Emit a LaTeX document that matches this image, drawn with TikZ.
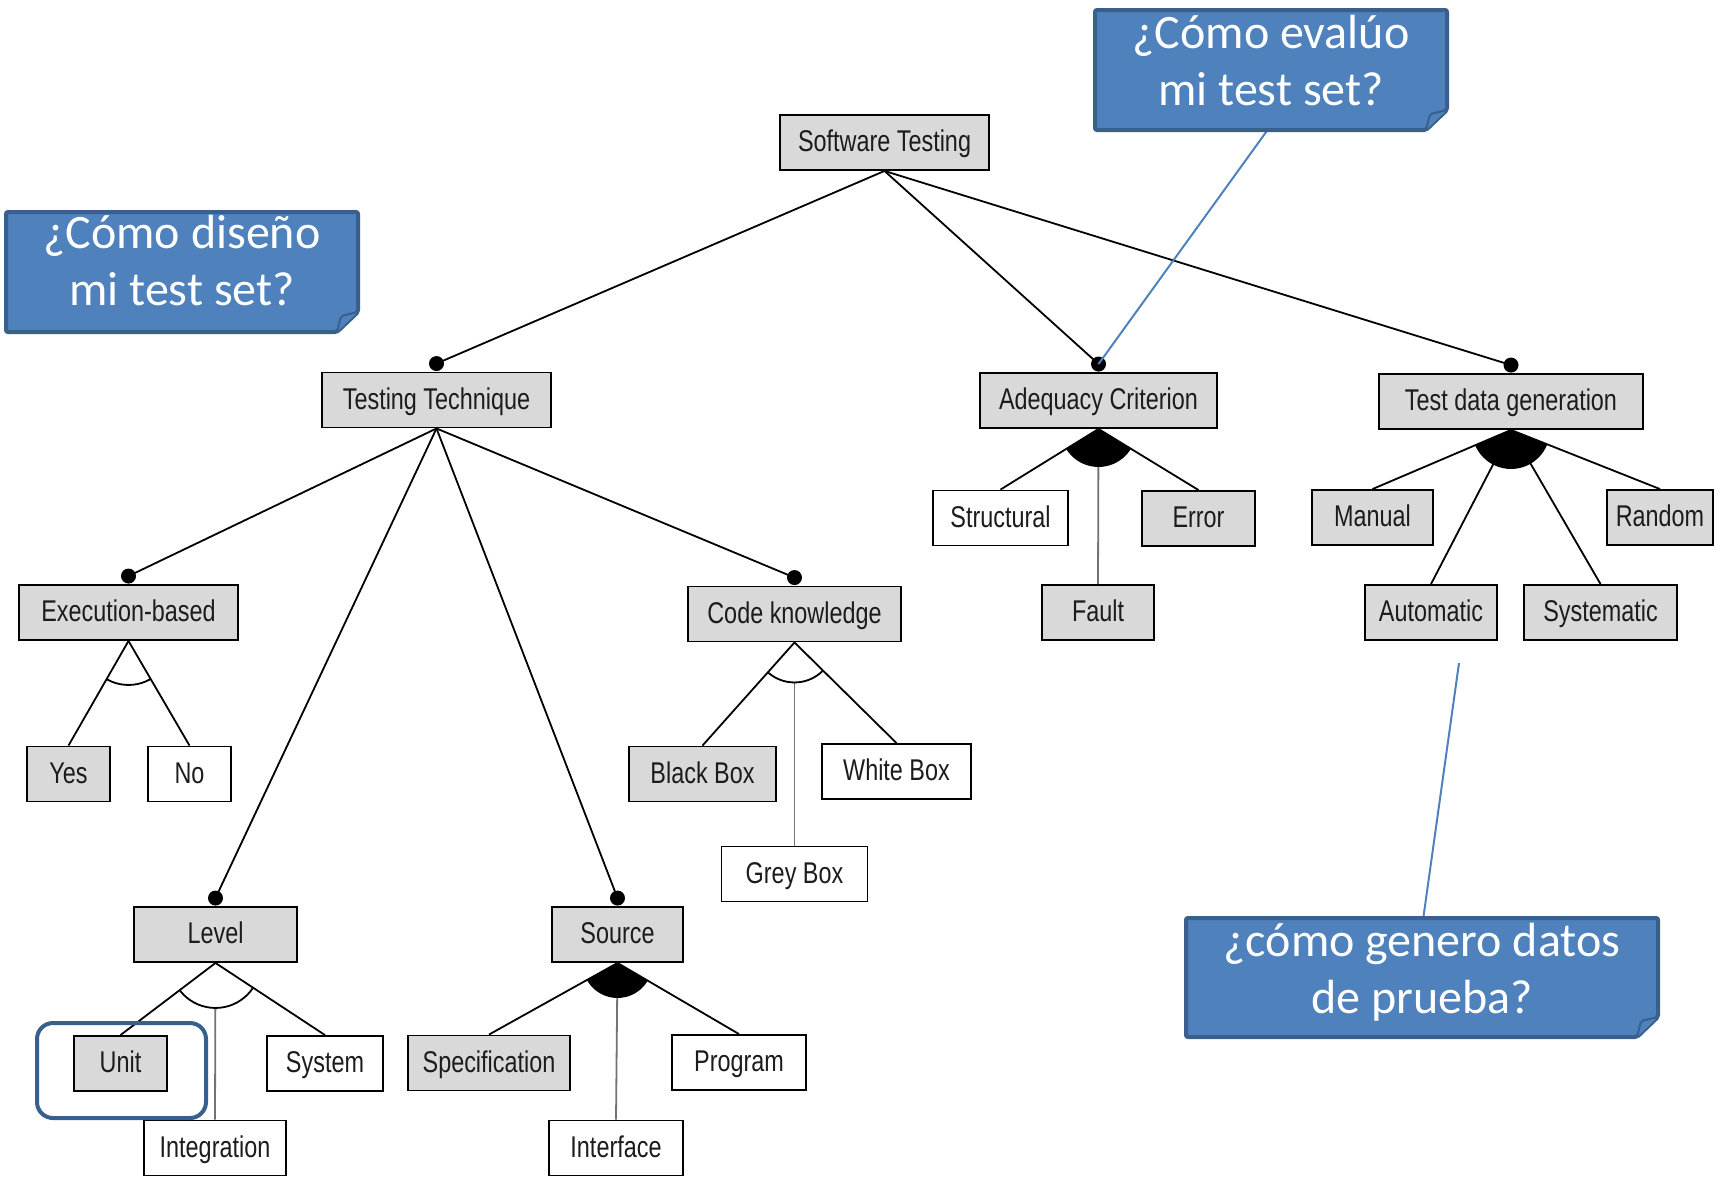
\documentclass[tikz,border=0pt]{standalone}
\usepackage{fontspec}
\newfontfamily\boxfont[FakeStretch=0.78]{Liberation Sans}
\newfontfamily\callfont{Carlito}
\definecolor{boxgrey}{HTML}{D9D9D9}
\definecolor{callfill}{HTML}{4F81BD}
\definecolor{callline}{HTML}{3A5F8D}
\definecolor{textdark}{HTML}{1C1C1C}

\begin{document}
\begin{tikzpicture}[
        x=1pt,y=-1pt,
        nsty/.style={
            draw,line width=1.9pt,
            minimum height=55pt,inner sep=0pt,
            text height=21pt,text depth=3pt,text=textdark,
            font=\boxfont\fontsize{30}{30}\selectfont,
        },
        csty0/.style={fill=white},
        csty1/.style={fill=boxgrey},
        dsty/.style={circle,fill,inner sep=0pt,minimum size=15pt},
        esty/.style={line width=1.8pt},
        msty/.style={line width=1.8pt,black!55},
        qsty/.style={fill=callfill,draw=callline,line width=4pt,rounded corners=2pt},
        tsty/.style={align=center,text=white,inner sep=0pt,anchor=north,
            font=\callfont\fontsize{48}{57}\selectfont},
        bline/.style={callfill,line width=2pt},
    ]

    \useasboundingbox (0,0) rectangle (1723,1176);

    \foreach \n/\ox/\oy/\bw/\fc/\lbl in {
        soft/884.5/142.5/209/1/Software Testing,
        tech/436.5/400/229/1/Testing Technique,
        adeq/1098.5/400.5/237/1/Adequacy Criterion,
        tdg/1511/401.5/264/1/Test data generation,
        exec/128.5/612.5/219/1/Execution-based,
        code/794.5/614/213/1/Code knowledge,
        level/215.5/934.5/163/1/Level,
        src/617.5/934.5/131/1/Source,
        yes/68.5/774/83/1/Yes,
        no/189.5/774/83/0/No,
        blackb/702.5/774/147/1/Black Box,
        whiteb/896.5/771.5/149/0/White Box,
        greyb/794.5/874/146/0/Grey Box,
        unit/120.5/1063.5/93/1/Unit,
        system/325/1063.5/116/0/System,
        integ/215/1148/142/0/Integration,
        spec/489/1063/162/1/Specification,
        prog/739/1062.5/134/0/Program,
        iface/616/1148/134/0/Interface,
        struct/1000.5/518/135/0/Structural,
        error/1198.5/518.5/113/1/Error,
        fault/1098/612.5/112/1/Fault,
        manual/1372.5/517.5/121/1/Manual,
        random/1660/517.5/106/1/Random,
        auto/1431/612.5/132/1/Automatic,
        syst/1600.5/612.5/153/1/Systematic}{
        \node[nsty,csty\fc,minimum width=\bw] at (\ox,\oy) (\n) {\lbl};
    }

    \draw[esty] (soft.south) -- ([yshift=8pt]tech.north) node[dsty] {};
    \draw[esty] (soft.south) -- ([yshift=8pt]adeq.north) node[dsty] {};
    \draw[esty] (soft.south) -- ([yshift=8pt]tdg.north) node[dsty] {};
    \draw[esty] (tech.south) -- ([yshift=8pt]exec.north) node[dsty] {};
    \draw[esty] (tech.south) -- ([yshift=8pt]level.north) node[dsty] {};
    \draw[esty] (tech.south) -- ([yshift=8pt]src.north) node[dsty] {};
    \draw[esty] (tech.south) -- ([yshift=8pt]code.north) node[dsty] {};

    \draw[esty] (exec.south) -- (yes.north);
    \draw[esty] (exec.south) -- (no.north);
    \begin{scope}
        \clip (exec.south) -- (yes.north) -- (no.north) -- cycle;
        \draw[esty] (exec.south) circle (44pt);
    \end{scope}

    \draw[esty] (code.south) -- (blackb.north);
    \draw[esty] (code.south) -- (whiteb.north);
    \draw[msty,shorten <=40pt] (code.south) -- (greyb.north);
    \begin{scope}
        \clip (code.south) -- (blackb.north) -- (whiteb.north) -- cycle;
        \draw[esty] (code.south) circle (40pt);
    \end{scope}

    \draw[esty] (level.south) -- (unit.north);
    \draw[esty] (level.south) -- (system.north);
    \draw[msty,shorten <=45pt] (level.south) -- (integ.north);
    \begin{scope}
        \clip (level.south) -- (unit.north) -- (system.north) -- cycle;
        \draw[esty] (level.south) circle (45pt);
    \end{scope}

    \draw[esty] (src.south) -- (spec.north);
    \draw[esty] (src.south) -- (prog.north);
    \draw[msty] (src.south) -- (iface.north);
    \begin{scope}
        \clip (src.south) -- (spec.north) -- (prog.north) -- cycle;
        \fill (src.south) circle (35pt);
    \end{scope}

    \draw[esty] (adeq.south) -- (struct.north);
    \draw[esty] (adeq.south) -- (error.north);
    \draw[msty] (adeq.south) -- (fault.north);
    \begin{scope}
        \clip (adeq.south) -- (struct.north) -- (error.north) -- cycle;
        \fill (adeq.south) circle (38pt);
    \end{scope}

    \draw[esty] (tdg.south) -- (manual.north);
    \draw[esty] (tdg.south) -- (random.north);
    \draw[esty] (tdg.south) -- (auto.north);
    \draw[esty] (tdg.south) -- (syst.north);
    \begin{scope}
        \clip (tdg.south) -- (manual.north) -- (random.north) -- cycle;
        \fill (tdg.south) circle (39pt);
    \end{scope}

    \draw[callline,line width=4pt,rounded corners=16pt] (37,1023) rectangle (206,1118);

    \coordinate (evalbot) at (1269,128);
    \coordinate (gentop) at (1423,920);
    \coordinate (genend) at (1459,663);
    \draw[bline] (evalbot) -- ([yshift=8pt]adeq.north);
    \draw[bline] (gentop) -- (genend);

    \filldraw[qsty] (1095,10) -- (1447,10) -- (1447,110) -- (1426,130) -- (1095,130) -- cycle;
    \filldraw[qsty,line width=2pt] (1447,110) -- (1430,114) -- (1426,130);
    \node[tsty] at (1271,15) (evalq) {¿Cómo evalúo\\mi test set?};

    \filldraw[qsty] (6,212) -- (358,212) -- (358,312) -- (337,332) -- (6,332) -- cycle;
    \filldraw[qsty,line width=2pt] (358,312) -- (341,316) -- (337,332);
    \node[tsty] at (182,215) (diseq) {¿Cómo diseño\\mi test set?};

    \filldraw[qsty] (1186,918) -- (1658,918) -- (1658,1017) -- (1637,1037) -- (1186,1037) -- cycle;
    \filldraw[qsty,line width=2pt] (1658,1017) -- (1641,1021) -- (1637,1037);
    \node[tsty] at (1422,923) (genq) {¿cómo genero datos\\de prueba?};

\end{tikzpicture}
\end{document}
